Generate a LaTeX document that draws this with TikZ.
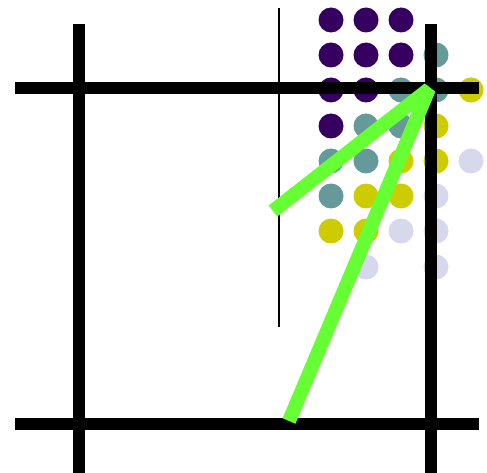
\documentclass[tikz,border=0pt]{standalone}
\begin{document}
\begin{tikzpicture}[x=1pt,y=-1pt,
  dotp/.style={fill=dpurple},
  dott/.style={fill=dteal},
  doty/.style={fill=dyellow},
  dotl/.style={fill=dlav},
  thick line/.style={line width=12pt,black},
  green line/.style={line width=14pt,lgreen,line join=bevel}]
\definecolor{dpurple}{HTML}{360061}
\definecolor{dteal}{HTML}{669999}
\definecolor{dyellow}{HTML}{CCCC00}
\definecolor{dlav}{HTML}{D8D8EC}
\definecolor{lgreen}{HTML}{66FF33}
\useasboundingbox (0,0) rectangle (487,473);
\def\r{12.5}
% column x: 331 366 401 436 471 ; rows y: 20 55 90 126 161 196 231 267
\foreach \x/\y/\s in {331/20/dotp,366/20/dotp,401/20/dotp,
  331/55/dotp,366/55/dotp,401/55/dotp,436/55/dott,
  331/90/dotp,366/90/dotp,401/90/dott,436/90/dott,471/90/doty,
  331/126/dotp,366/126/dott,401/126/dott,436/126/doty,
  331/161/dott,366/161/dott,401/161/doty,436/161/doty,471/161/dotl,
  331/196/dott,366/196/doty,401/196/doty,436/196/dotl,
  331/231/doty,366/231/doty,401/231/dotl,436/231/dotl,
  366/267/dotl,436/267/dotl}
  \path[\s] (\x,\y) circle (\r);
\coordinate (v1t) at (79,24); \coordinate (v1b) at (79,473);
\coordinate (v2t) at (431,24); \coordinate (v2b) at (431,473);
\coordinate (h1l) at (15,88); \coordinate (h1r) at (479,88);
\coordinate (h2l) at (15,424); \coordinate (h2r) at (479,424);
\coordinate (tt) at (279,8); \coordinate (tb) at (279,327);
\coordinate (apex) at (429,89);
\coordinate (g1) at (273,211);
\coordinate (g2) at (289,421);
\draw[thick line] (v1t) -- (v1b);
\draw[thick line] (v2t) -- (v2b);
\draw[thick line] (h1l) -- (h1r);
\draw[thick line] (h2l) -- (h2r);
\draw[line width=1.5pt] (tt) -- (tb);
\draw[green line] (g1) -- (apex) -- (g2);
\end{tikzpicture}
\end{document}
